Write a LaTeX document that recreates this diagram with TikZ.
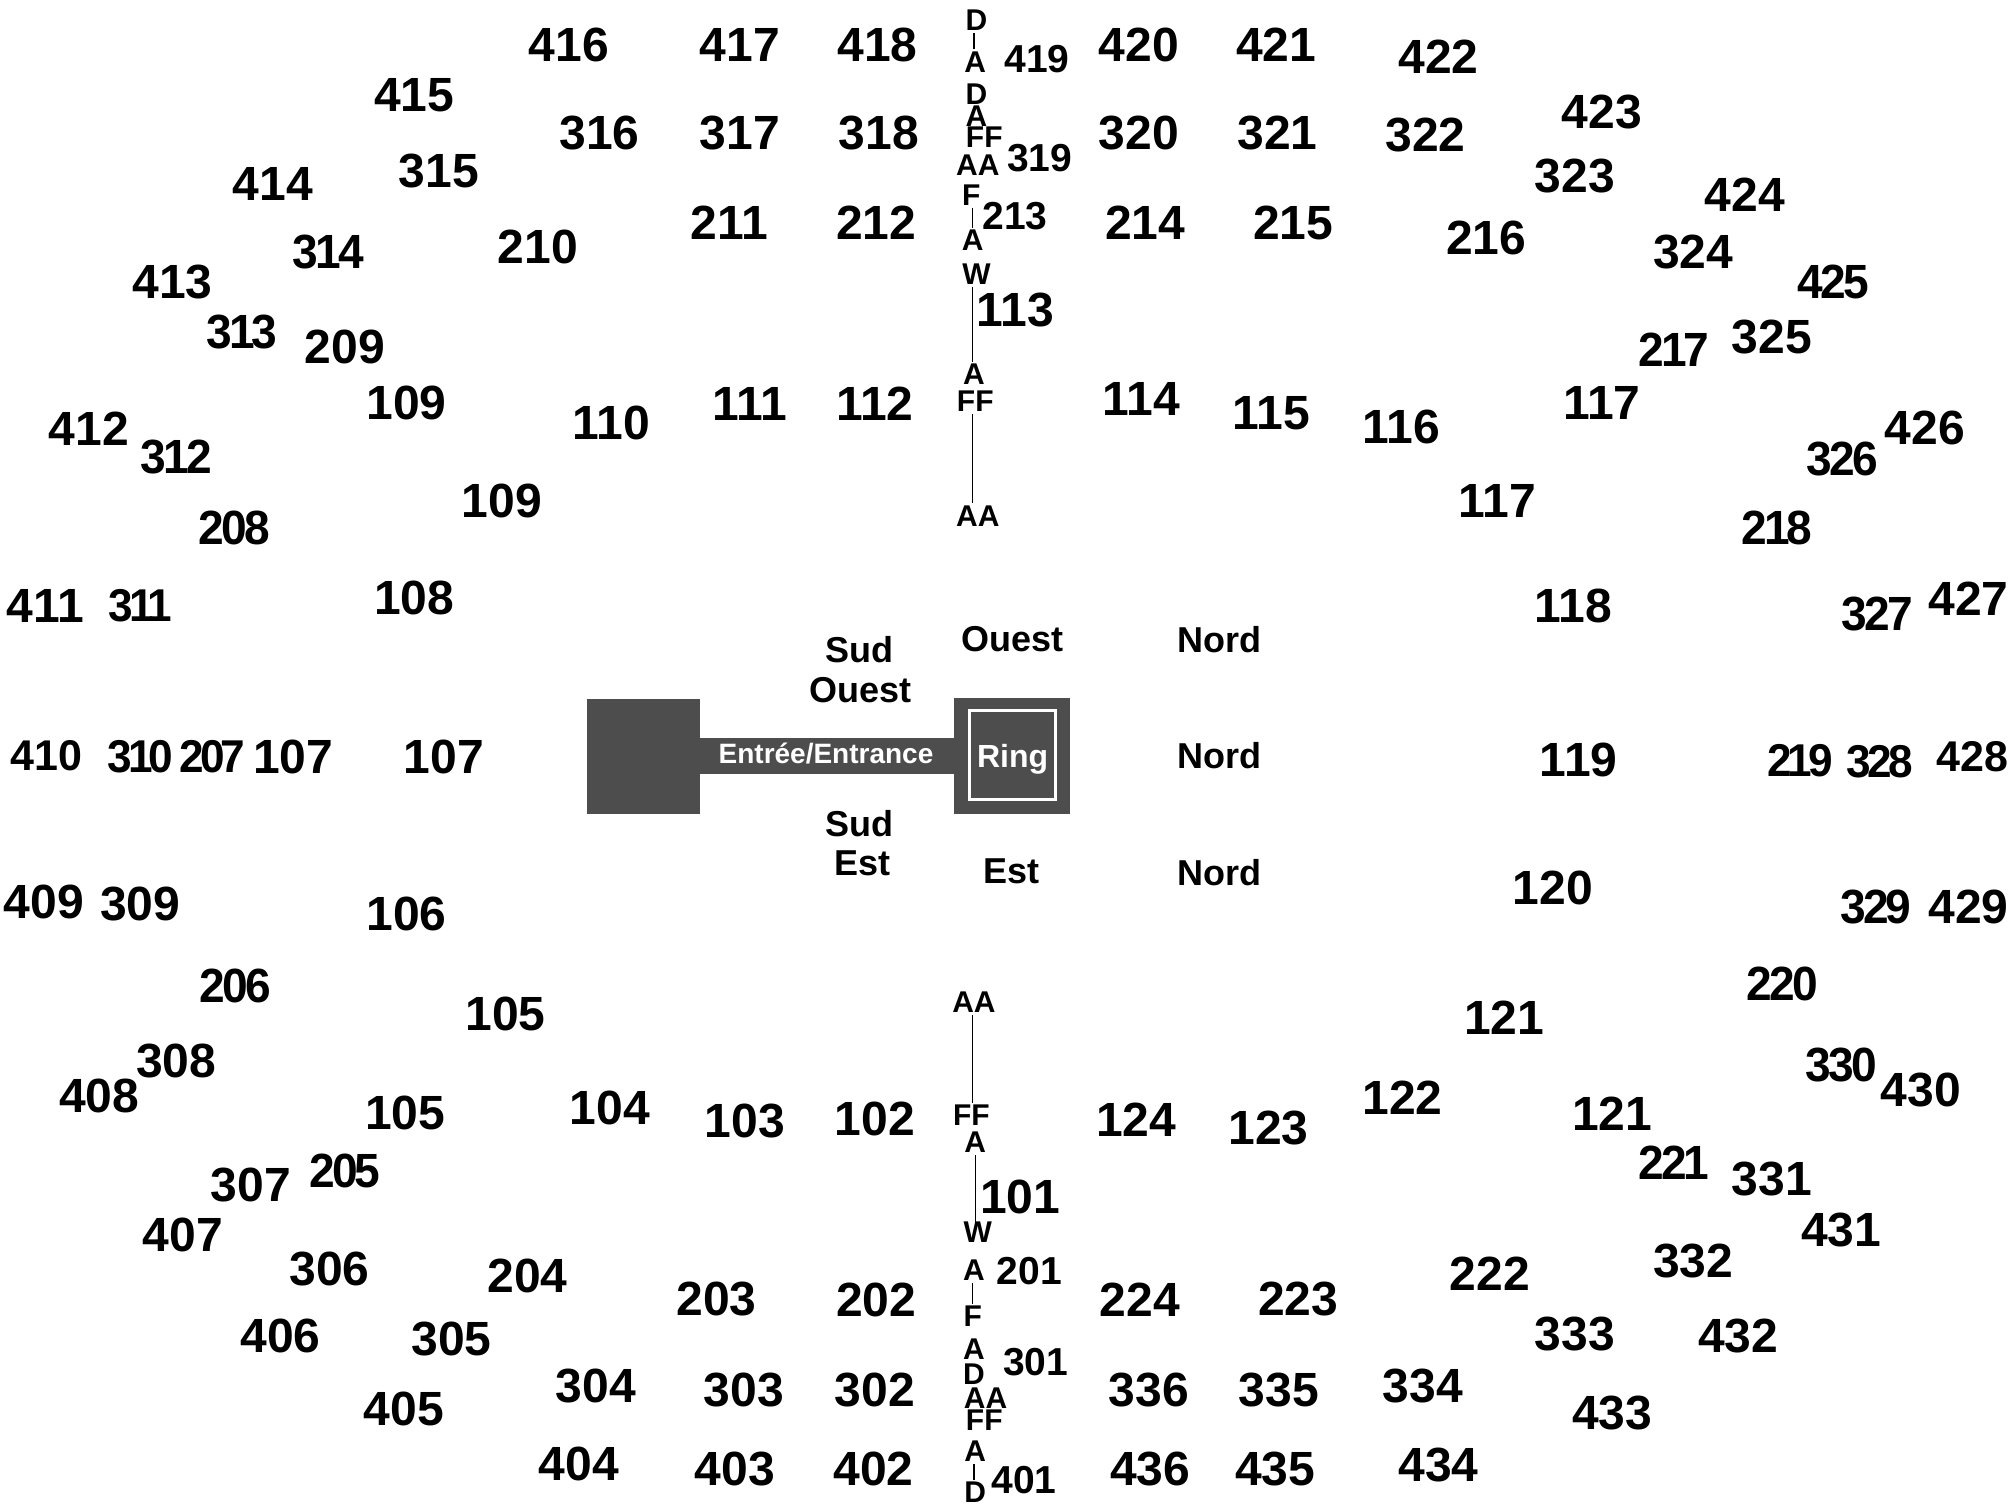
\documentclass[tikz,border=0pt]{standalone}
\usepackage{fontspec}
\setmainfont{Liberation Sans}
\definecolor{ringgray}{HTML}{4D4D4D}
\tikzset{
  seat/.style={font=\bfseries\fontsize{24}{24}\selectfont},
  seatsm/.style={font=\bfseries\fontsize{19.5}{20}\selectfont},
  seatmd/.style={font=\bfseries\fontsize{21.5}{22}\selectfont},
  tight/.style={font=\bfseries\fontsize{24}{24}\selectfont\addfontfeatures{LetterSpace=-6}, transform shape, xscale=.96},
  tighter/.style={font=\bfseries\fontsize{23}{24}\selectfont\addfontfeatures{LetterSpace=-9}, transform shape, xscale=.96},
  row/.style={font=\bfseries\fontsize{15}{15}\selectfont, inner sep=1pt},
  side/.style={font=\bfseries\fontsize{18}{18}\selectfont},
  block/.style={fill=ringgray, draw=none, inner sep=0pt, anchor=north west},
  aisle/.style={draw=black, line width=.6pt},
}
\begin{document}
\begin{tikzpicture}[x=.6433pt, y=-.6433pt, every node/.style={inner sep=0pt}]
\useasboundingbox (0,0) rectangle (1566.9,1174.4);

% floor
\node (scene) [block, minimum width=56.2pt, minimum height=57.4pt] at (456,543) {};
\node (ringbox) [block, minimum width=58pt, minimum height=58pt] at (741,542) {};
\node (entry) [block, minimum width=127.7pt, minimum height=18pt] at (543,573) {};
\node (ring) [draw=white, line width=1.4pt, minimum width=43pt, minimum height=44.5pt] at (787,587) {};
\node (entrytext) [white, font=\bfseries\fontsize{14}{14}\selectfont] at (642,586) {Entrée/Entrance};
\node (ringtext) [white, font=\bfseries\fontsize{16}{16}\selectfont] at (787,590) {Ring};

% sides
\node (sud1) [side] at (668,505) {Sud};
\node (ouest1) [side] at (669,536) {Ouest};
\node (ouest2) [side] at (787,497) {Ouest};
\node (nord1) [side] at (948,497) {Nord};
\node (nord2) [side] at (948,587) {Nord};
\node (nord3) [side] at (948,678) {Nord};
\node (sud2) [side] at (668,640) {Sud};
\node (est1) [side] at (670,671) {Est};
\node (est2) [side] at (786,677) {Est};

% rows, top
\node (td1) [row] at (759,16) {D};
\node (ta1) [row] at (758,48) {A};
\node (td2) [row] at (759,73) {D};
\node (ta2) [row] at (759,90) {A};
\node (tff1) [row] at (765,107) {FF};
\node (taa1) [row] at (760,128) {AA};
\node (tf) [row] at (755,152) {F};
\node (ta3) [row] at (756,187) {A};
\node (tw) [row] at (759,213) {W};
\node (ta4) [row] at (757,291) {A};
\node (tff2) [row] at (758,312) {FF};
\node (taa2) [row] at (760,401) {AA};
% rows, bottom
\node (baa1) [row] at (757,779) {AA};
\node (bff1) [row] at (755,867) {FF};
\node (ba1) [row] at (758,888) {A};
\node (bw) [row] at (760,958) {W};
\node (ba2) [row] at (757,987) {A};
\node (bf) [row] at (756,1023) {F};
\node (ba3) [row] at (757,1049) {A};
\node (bd1) [row] at (757,1068) {D};
\node (baa2) [row] at (766,1087) {AA};
\node (bff2) [row] at (765,1104) {FF};
\node (ba4) [row] at (758,1128) {A};
\node (bd2) [row] at (758,1160) {D};

\draw [aisle] (td1.south -| 757,0) -- (ta1.north -| 757,0);
\draw [aisle] (tf.south -| 756,0) -- (ta3.north -| 756,0);
\draw [aisle] (tw.south -| 756,0) -- (ta4.north -| 756,0);
\draw [aisle] (tff2.south -| 756,0) -- (taa2.north -| 756,0);
\draw [aisle] (baa1.south -| 756,0) -- (bff1.north -| 756,0);
\draw [aisle, shorten >=-3pt] (ba1.south -| 758,0) -- (bw.north -| 758,0);
\draw [aisle] (ba2.south -| 756,0) -- (bf.north -| 756,0);
\draw [aisle] (ba4.south -| 757,0) -- (bd2.north -| 757,0);

% 100
\node (s101) [seat] at (793,930) {101};
\node (s102) [seat] at (680,870) {102};
\node (s103) [seat] at (579,871) {103};
\node (s104) [seat] at (474,861) {104};
\node (s105a) [seat] at (393,788) {105};
\node (s105b) [seat] at (315,865) {105};
\node (s106) [seat] at (316,710) {106};
\node (s107a) [seat] at (345,588) {107};
\node (s107b) [seat] at (228,588) {107};
\node (s108) [seat] at (322,465) {108};
\node (s109a) [seat] at (390,389) {109};
\node (s109b) [seat] at (316,313) {109};
\node (s110) [seat] at (475,329) {110};
\node (s111) [seat] at (583,314) {111};
\node (s112) [seat] at (680,314) {112};
\node (s113) [seat] at (789,241) {113};
\node (s114) [seat] at (887,310) {114};
\node (s115) [seat] at (988,321) {115};
\node (s116) [seat] at (1089,332) {116};
\node (s117a) [seat] at (1245,313) {117};
\node (s117b) [seat] at (1164,389) {117};
\node (s118) [seat] at (1223,471) {118};
\node (s119) [seat] at (1227,591) {119};
\node (s120) [seat] at (1207,690) {120};
\node (s121a) [seat] at (1169,791) {121};
\node (s121b) [seat] at (1253,866) {121};
\node (s122) [seat] at (1090,853) {122};
\node (s123) [seat] at (986,877) {123};
\node (s124) [seat] at (883,870) {124};

% 200
\node (s201) [seatsm] at (800,988) {201};
\node (s202) [seat] at (681,1010) {202};
\node (s203) [seat] at (557,1010) {203};
\node (s204) [seat] at (410,992) {204};
\node (s205) [tight] at (268,910) {205};
\node (s206) [tight] at (183,766) {206};
\node (s207) [tighter] at (165,588) {207};
\node (s208) [tight] at (182,410) {208};
\node (s209) [seat] at (268,270) {209};
\node (s210) [seat] at (418,192) {210};
\node (s211) [seat] at (567,173) {211};
\node (s212) [seat] at (681,173) {212};
\node (s213) [seatsm] at (789,168) {213};
\node (s214) [seat] at (890,173) {214};
\node (s215) [seat] at (1005,173) {215};
\node (s216) [seat] at (1155,185) {216};
\node (s217) [tight] at (1301,272) {217};
\node (s218) [tight] at (1381,410) {218};
\node (s219) [tighter] at (1399,591) {219};
\node (s220) [tight] at (1385,765) {220};
\node (s221) [tight] at (1301,904) {221};
\node (s222) [seat] at (1158,990) {222};
\node (s223) [seat] at (1009,1010) {223};
\node (s224) [seat] at (886,1010) {224};

% 300
\node (s301) [seatsm] at (805,1059) {301};
\node (s302) [seat] at (680,1080) {302};
\node (s303) [seat] at (578,1080) {303};
\node (s304) [seat] at (463,1077) {304};
\node (s305) [seat] at (351,1041) {305};
\node (s306) [seat] at (256,986) {306};
\node (s307) [seat] at (195,921) {307};
\node (s308) [seat] at (137,825) {308};
\node (s309) [seat] at (109,703) {309};
\node (s310) [tighter] at (109,588) {310};
\node (s311) [tighter] at (109,471) {311};
\node (s312) [tight] at (137,355) {312};
\node (s313) [tight] at (188,258) {313};
\node (s314) [tight] at (255,196) {314};
\node (s315) [seat] at (341,133) {315};
\node (s316) [seat] at (466,103) {316};
\node (s317) [seat] at (575,103) {317};
\node (s318) [seat] at (683,103) {318};
\node (s319) [seatsm] at (808,123) {319};
\node (s320) [seat] at (885,103) {320};
\node (s321) [seat] at (993,103) {321};
\node (s322) [seat] at (1108,105) {322};
\node (s323) [seat] at (1224,137) {323};
\node (s324) [seat] at (1316,196) {324};
\node (s325) [seat] at (1377,262) {325};
\node (s326) [tight] at (1432,357) {326};
\node (s327) [tight] at (1459,477) {327};
\node (s328) [tighter] at (1461,592) {328};
\node (s329) [tight] at (1458,705) {329};
\node (s330) [tight] at (1431,828) {330};
\node (s331) [seat] at (1377,916) {331};
\node (s332) [seat] at (1316,980) {332};
\node (s333) [seat] at (1224,1037) {333};
\node (s334) [seat] at (1106,1077) {334};
\node (s335) [seat] at (994,1080) {335};
\node (s336) [seat] at (893,1080) {336};

% 400
\node (s401) [seatsm] at (796,1150) {401};
\node (s402) [seat] at (679,1142) {402};
\node (s403) [seat] at (571,1142) {403};
\node (s404) [seat] at (450,1138) {404};
\node (s405) [seat] at (314,1095) {405};
\node (s406) [seat] at (218,1038) {406};
\node (s407) [seat] at (142,960) {407};
\node (s408) [seat] at (77,852) {408};
\node (s409) [seat] at (34,701) {409};
\node (s410) [seatmd] at (36,587) {410};
\node (s411) [seat] at (35,471) {411};
\node (s412) [seat] at (69,333) {412};
\node (s413) [seat] at (134,219) {413};
\node (s414) [seat] at (212,143) {414};
\node (s415) [seat] at (322,74) {415};
\node (s416) [seat] at (442,35) {416};
\node (s417) [seat] at (575,35) {417};
\node (s418) [seat] at (682,35) {418};
\node (s419) [seatsm] at (806,46) {419};
\node (s420) [seat] at (885,35) {420};
\node (s421) [seat] at (992,35) {421};
\node (s422) [seat] at (1118,44) {422};
\node (s423) [seat] at (1245,87) {423};
\node (s424) [seat] at (1356,151) {424};
\node (s425) [tight] at (1425,219) {425};
\node (s426) [seat] at (1496,333) {426};
\node (s427) [seat] at (1530,465) {427};
\node (s428) [seatmd] at (1533,588) {428};
\node (s429) [seat] at (1530,705) {429};
\node (s430) [seat] at (1493,847) {430};
\node (s431) [seat] at (1431,956) {431};
\node (s432) [seat] at (1351,1038) {432};
\node (s433) [seat] at (1253,1098) {433};
\node (s434) [seat] at (1118,1139) {434};
\node (s435) [seat] at (991,1142) {435};
\node (s436) [seat] at (894,1142) {436};

\end{tikzpicture}
\end{document}
